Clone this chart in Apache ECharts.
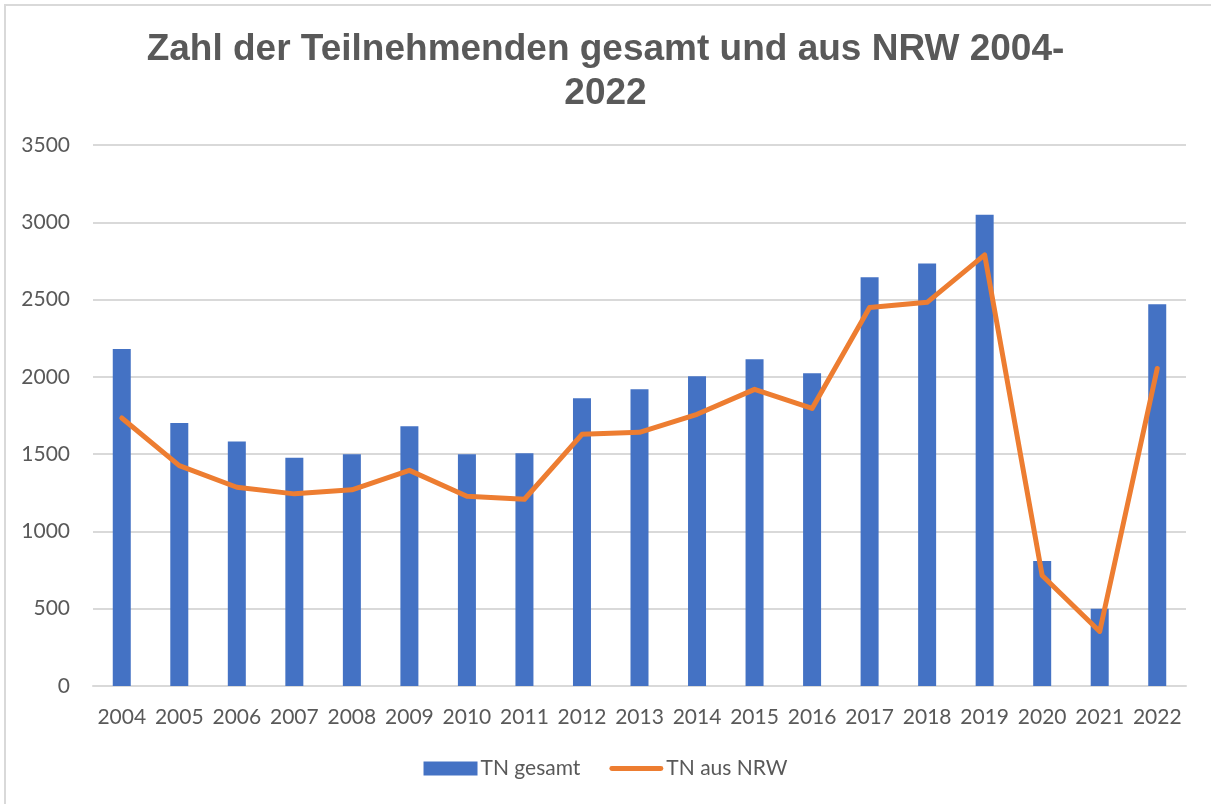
<!DOCTYPE html>
<html>
<head>
<meta charset="utf-8">
<script src="https://cdn.jsdelivr.net/npm/echarts@6/dist/echarts.min.js"></script>
<style>
  html, body { margin: 0; padding: 0; background: #fff; }
  #myChart { width: 1211px; height: 804px; }
</style>
</head>
<body>
<div id="myChart"></div>
<script>
  // Teilnehmende pro Jahr
  let years = ["2004", "2005", "2006", "2007", "2008", "2009", "2010", "2011", "2012", "2013",
    "2014", "2015", "2016", "2017", "2018", "2019", "2020", "2021", "2022"];
  let tnGesamt = [2180, 1702, 1581, 1477, 1499, 1680, 1500, 1506, 1861, 1920,
    2004, 2114, 2023, 2644, 2734, 3049, 808, 500, 2470];
  let tnNrw = [1734, 1426, 1286, 1243, 1269, 1395, 1228, 1208, 1628, 1641,
    1758, 1919, 1796, 2449, 2482, 2789, 715, 353, 2054];

  let labelStyle = {
    color: "#595959",
    fontFamily: "Lato",
    fontSize: 21
  };

  let myChart = echarts.init(document.getElementById("myChart"));
  let option = {
    backgroundColor: "#fff",
    animation: false,
    title: {
      text: "Zahl der Teilnehmenden gesamt und aus NRW 2004-\n2022",
      left: "center",
      top: 23,
      textStyle: {
        color: "#595959",
        fontFamily: "Liberation Sans",
        fontWeight: "bold",
        fontSize: 37,
        lineHeight: 44
      }
    },
    graphic: [
      {
        type: "rect",
        silent: true,
        shape: { x: 5, y: 5, width: 1400, height: 1000 },
        style: { fill: "none", stroke: "#d9d9d9", lineWidth: 2 }
      }
    ],
    grid: {
      left: 93,
      right: 25,
      top: 145,
      bottom: 118
    },
    legend: {
      bottom: 20,
      left: "center",
      itemGap: 29,
      itemWidth: 54,
      itemHeight: 14,
      selectedMode: false,
      textStyle: {
        color: "#595959",
        fontFamily: "Lato",
        fontSize: 21,
        padding: [0, 0, 0, -2]
      },
      data: [
        { name: "TN gesamt", icon: "rect" },
        {
          name: "TN aus NRW",
          // dicke Linie ohne Punkt
          icon: "path://M2.5,0 L53.5,0 A2.5,2.5 0 0 1 53.5,5 L2.5,5 A2.5,2.5 0 0 1 2.5,0 Z"
        }
      ]
    },
    xAxis: {
      type: "category",
      data: years,
      axisLine: { show: true, lineStyle: { color: "#d9d9d9", width: 2 } },
      axisTick: { show: false },
      axisLabel: Object.assign({ margin: 21, interval: 0 }, labelStyle)
    },
    yAxis: {
      type: "value",
      min: 0,
      max: 3500,
      interval: 500,
      axisLine: { show: false },
      axisTick: { show: false },
      splitLine: { show: true, lineStyle: { color: "#d9d9d9", width: 2 } },
      axisLabel: Object.assign({
        margin: 23,
        formatter: function(value) {
          return String(value);
        }
      }, labelStyle)
    },
    series: [
      {
        name: "TN gesamt",
        type: "bar",
        barWidth: 18,
        itemStyle: { color: "#4472C4" },
        data: tnGesamt
      },
      {
        name: "TN aus NRW",
        type: "line",
        symbol: "none",
        smooth: false,
        lineStyle: { color: "#ED7D31", width: 5, cap: "round", join: "round" },
        itemStyle: { color: "#ED7D31" },
        data: tnNrw
      }
    ]
  };
  myChart.setOption(option, true);
</script>
</body>
</html>
